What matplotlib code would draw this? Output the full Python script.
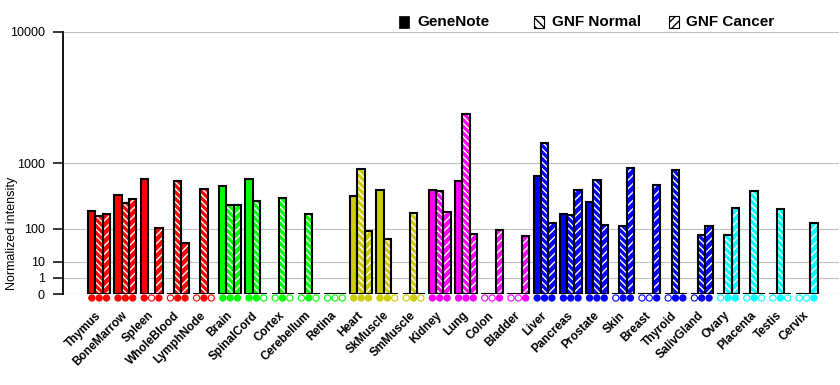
import numpy as np
import matplotlib
matplotlib.use("Agg")
import matplotlib.pyplot as plt
from matplotlib import transforms
from matplotlib.patches import Rectangle

plt.rcParams['font.family'] = ['Liberation Sans', 'DejaVu Sans']
plt.rcParams['hatch.linewidth'] = 1.0

tissues = ["Thymus", "BoneMarrow", "Spleen", "WholeBlood", "LymphNode", "Brain",
           "SpinalCord", "Cortex", "Cerebellum", "Retina", "Heart", "SkMuscle",
           "SmMuscle", "Kidney", "Lung", "Colon", "Bladder", "Liver", "Pancreas",
           "Prostate", "Skin", "Breast", "Thyroid", "SalivGland", "Ovary",
           "Placenta", "Testis", "Cervix"]

genenote = [222, 396, 650, 0, 0, 528, 650, 0, 0, 0, 383, 467, 0, 467, 613, 0, 0,
            708, 196, 311, 0, 0, 0, 0, 0, 0, 0, 0]
gnf_normal = [183, 304, 0, 613, 481, 276, 322, 358, 196, 0, 857, 57, 204, 448, 2900,
              0, 0, 1600, 187, 632, 115, 0, 840, 70, 72, 452, 240, 0]
gnf_cancer = [196, 342, 104, 44, 0, 276, 0, 0, 0, 0, 91, 0, 0, 213, 75, 96, 68,
              132, 467, 121, 880, 550, 0, 115, 253, 0, 0, 132]

present_gn = [1, 1, 1, 0, 0, 1, 1, 0, 0, 0, 1, 1, 0, 1, 1, 0, 0, 1, 1, 1, 0, 0, 0, 0, 0, 0, 0, 0]
present_normal = [1, 1, 0, 1, 1, 1, 1, 1, 1, 0, 1, 1, 1, 1, 1, 0, 0, 1, 1, 1, 1, 0, 1, 1, 1, 1, 1, 0]
present_cancer = [1, 1, 1, 1, 0, 1, 0, 0, 0, 0, 1, 0, 0, 1, 1, 1, 1, 1, 1, 1, 1, 1, 1, 1, 1, 0, 0, 1]

tissue_colors = (["#FF0000"] * 5 + ["#00FF00"] * 5 + ["#CCCC00"] * 3 +
                 ["#FF00FF"] * 4 + ["#0000FF"] * 7 + ["#00FFFF"] * 4)

yticks = [0, 1, 10, 100, 1000, 10000]
series_names = ["GeneNote", "GNF Normal", "GNF Cancer"]

P = np.log10(2.0)


def fwd(v):
    v = np.asarray(v, dtype=float)
    return np.where(v > 0, np.abs(v), 0.0) ** P


def inv(u):
    u = np.asarray(u, dtype=float)
    return np.where(u > 0, np.abs(u), 0.0) ** (1.0 / P)


W, H = 840, 385
fig = plt.figure(figsize=(W / 100, H / 100), dpi=100)
ax = fig.add_axes([63 / W, (H - 294.3) / H, (839 - 63) / W, (294.3 - 32) / H])
ax.set_yscale('function', functions=(fwd, inv))
ax.set_ylim(0, 10000)
ax.set_xlim(-1.38, 28.24)

x = np.arange(len(tissues))
bw = 0.28
hatches = [None, '\\\\\\\\\\', '////']
series = [genenote, gnf_normal, gnf_cancer]
presence = [present_gn, present_normal, present_cancer]

for k, (vals, hat) in enumerate(zip(series, hatches)):
    pos = x + (k - 1) * bw
    if hat is None:
        ax.bar(pos, vals, width=bw, color=tissue_colors, edgecolor='black',
               linewidth=1.5, zorder=3)
    else:
        ax.bar(pos, vals, width=bw, color=tissue_colors, edgecolor='white',
               linewidth=0, hatch=hat, zorder=3)
        ax.bar(pos, vals, width=bw, facecolor='none', edgecolor='black',
               linewidth=1.5, zorder=4)

# presence markers below axis
trans = transforms.blended_transform_factory(ax.transData, ax.transAxes)
for k, pres in enumerate(presence):
    pos = x + (k - 1) * bw
    fcs = [c if p else 'white' for c, p in zip(tissue_colors, pres)]
    ax.scatter(pos, [-0.014] * len(pos), s=20, marker='o', facecolors=fcs,
               edgecolors=tissue_colors, linewidths=0.8, transform=trans,
               clip_on=False, zorder=5)

ax.set_yticks(yticks)
ax.set_yticklabels([str(t) for t in yticks], fontsize=9)
ax.yaxis.grid(True, color='#C0C0C0', linewidth=0.8)
ax.set_axisbelow(True)
ax.tick_params(axis='y', length=7, width=1.1, pad=6, color='black')
for s in ['top', 'right', 'bottom']:
    ax.spines[s].set_visible(False)
ax.spines['left'].set_linewidth(1.3)
ax.axhline(0, color='#C0C0C0', linewidth=0.8, zorder=1)

ax.set_xticks(x)
ax.set_xticklabels(tissues, rotation=45, ha='right', va='center',
                   rotation_mode='anchor', fontsize=8.5, fontweight='bold')
ax.tick_params(axis='x', length=0, pad=14)

fig.text(12 / W, 1 - 233 / H, "Normalized intensity", rotation=90,
         ha='center', va='center', fontsize=9)

# legend
sq_x = [399, 534, 669]
txt_x = [417, 552, 686]
leg_hatch = [None, '\\\\\\\\', '////']
for sx, tx, name, hat in zip(sq_x, txt_x, series_names, leg_hatch):
    if hat is None:
        r = Rectangle((sx / W, 1 - 27.5 / H), 10 / W, 11 / H, transform=fig.transFigure,
                      facecolor='black', edgecolor='black', linewidth=0.5)
    else:
        r = Rectangle((sx / W, 1 - 27.5 / H), 10 / W, 11 / H, transform=fig.transFigure,
                      facecolor='white', edgecolor='black', linewidth=0.8, hatch=hat)
    fig.add_artist(r)
    fig.text(tx / W, 1 - 22 / H, name, ha='left', va='center', fontsize=11,
             fontweight='bold')

fig.savefig("out.png", dpi=100, facecolor='white')
